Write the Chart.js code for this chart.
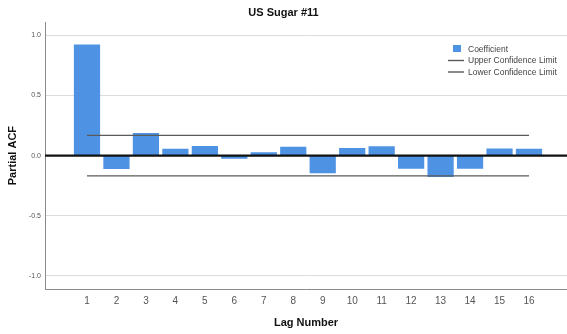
<!DOCTYPE html>
<html>
<head>
<meta charset="utf-8">
<title>US Sugar #11 – Partial ACF</title>
<script src="https://cdn.jsdelivr.net/npm/chart.js@4/dist/chart.umd.min.js"></script>
<style>
  html, body { margin: 0; padding: 0; background: #ffffff; }
  #wrap { width: 567px; height: 334px; }
</style>
</head>
<body>
<div id="wrap"><canvas id="chart" width="567" height="334"></canvas></div>
<script>
// Lag numbers and partial autocorrelation coefficients
const lags = [1, 2, 3, 4, 5, 6, 7, 8, 9, 10, 11, 12, 13, 14, 15, 16];
const coefficients = [0.923, -0.111, 0.187, 0.057, 0.080, -0.027, 0.028, 0.073,
                      -0.147, 0.064, 0.078, -0.110, -0.178, -0.110, 0.058, 0.056];
// 95% confidence limits at each lag
const upperLimits = [0.168, 0.168, 0.168, 0.168, 0.168, 0.168, 0.168, 0.168,
                     0.168, 0.168, 0.168, 0.168, 0.168, 0.168, 0.168, 0.168];
const lowerLimits = [-0.168, -0.168, -0.168, -0.168, -0.168, -0.168, -0.168, -0.168,
                     -0.168, -0.168, -0.168, -0.168, -0.168, -0.168, -0.168, -0.168];
const yTicks = [-1.0, -0.5, 0.0, 0.5, 1.0];

const FONT = "'Liberation Sans', Arial, sans-serif";
const BAR_COLOR = '#4e93e3';
const LIMIT_COLOR = '#5a5a5a';

const toPoints = (vals) => lags.map((lag, i) => ({ x: lag, y: vals[i] }));

// Thick reference line at zero across the whole plot area
const zeroLine = {
  id: 'zeroLine',
  afterDatasetsDraw(chart) {
    const { ctx, chartArea } = chart;
    const y = chart.scales.y.getPixelForValue(0);
    ctx.save();
    ctx.strokeStyle = '#111111';
    ctx.lineWidth = 2.2;
    ctx.beginPath();
    ctx.moveTo(chartArea.left, y);
    ctx.lineTo(chartArea.right, y);
    ctx.stroke();
    ctx.restore();
  }
};

// Compact legend in the upper right corner of the plot
const cornerLegend = {
  id: 'cornerLegend',
  afterDraw(chart) {
    const { ctx } = chart;
    const x0 = 448, textX = 468, y0 = 49, step = 11.5;
    ctx.save();
    ctx.font = '8.5px ' + FONT;
    ctx.textBaseline = 'middle';
    ctx.textAlign = 'left';
    chart.data.datasets.forEach((ds, i) => {
      const y = y0 + i * step;
      if (ds.type === 'line') {
        ctx.strokeStyle = ds.borderColor;
        ctx.lineWidth = 1.4;
        ctx.beginPath();
        ctx.moveTo(x0, y);
        ctx.lineTo(x0 + 16, y);
        ctx.stroke();
      } else {
        ctx.fillStyle = ds.backgroundColor;
        ctx.fillRect(x0 + 5, y - 4, 8, 7);
      }
      ctx.fillStyle = '#444444';
      ctx.fillText(ds.label, textX, y + 0.5);
    });
    ctx.restore();
  }
};

new Chart(document.getElementById('chart'), {
  type: 'bar',
  data: {
    datasets: [
      {
        label: 'Coefficient',
        data: toPoints(coefficients),
        backgroundColor: BAR_COLOR,
        borderWidth: 0,
        barPercentage: 1.0,
        categoryPercentage: 0.89,
        order: 2
      },
      {
        type: 'line',
        label: 'Upper Confidence Limit',
        data: toPoints(upperLimits),
        borderColor: LIMIT_COLOR,
        borderWidth: 1.4,
        pointRadius: 0,
        fill: false,
        order: 1
      },
      {
        type: 'line',
        label: 'Lower Confidence Limit',
        data: toPoints(lowerLimits),
        borderColor: LIMIT_COLOR,
        borderWidth: 1.4,
        pointRadius: 0,
        fill: false,
        order: 1
      }
    ]
  },
  options: {
    responsive: false,
    animation: false,
    devicePixelRatio: 1,
    layout: { padding: { left: 0, right: 0, top: 0, bottom: 0 } },
    plugins: {
      legend: { display: false },
      tooltip: { enabled: false },
      title: {
        display: true,
        text: 'US Sugar #11',
        color: '#111111',
        font: { family: FONT, size: 11, weight: 'bold', lineHeight: 1.2 },
        padding: { top: 6, bottom: 3 }
      }
    },
    scales: {
      x: {
        type: 'linear',
        min: -0.425,
        max: 17.29,
        offset: false,
        afterBuildTicks(scale) {
          scale.ticks = lags.map(v => ({ value: v }));
        },
        afterFit(scale) { scale.height = 45; },
        grid: { display: false, drawTicks: false },
        border: { display: true, color: '#8a8a8a', width: 1 },
        ticks: {
          color: '#555555',
          font: { family: FONT, size: 10 },
          padding: 6,
          maxRotation: 0,
          autoSkip: false,
          callback: (v) => String(v)
        },
        title: {
          display: true,
          text: 'Lag Number',
          color: '#111111',
          font: { family: FONT, size: 11, weight: 'bold' },
          padding: { top: 5, bottom: 4 }
        }
      },
      y: {
        min: -1.108,
        max: 1.108,
        afterBuildTicks(scale) {
          scale.ticks = yTicks.map(v => ({ value: v }));
        },
        afterFit(scale) { scale.width = 45; },
        grid: { color: '#dcdcdc', lineWidth: 1, drawTicks: false },
        border: { display: true, color: '#8a8a8a', width: 1 },
        ticks: {
          color: '#555555',
          font: { family: FONT, size: 7 },
          padding: 4,
          callback: (v) => v.toFixed(1)
        },
        title: {
          display: true,
          text: 'Partial ACF',
          color: '#111111',
          font: { family: FONT, size: 11, weight: 'bold' },
          padding: { top: 6, bottom: 0 }
        }
      }
    }
  },
  plugins: [zeroLine, cornerLegend]
});
</script>
</body>
</html>
